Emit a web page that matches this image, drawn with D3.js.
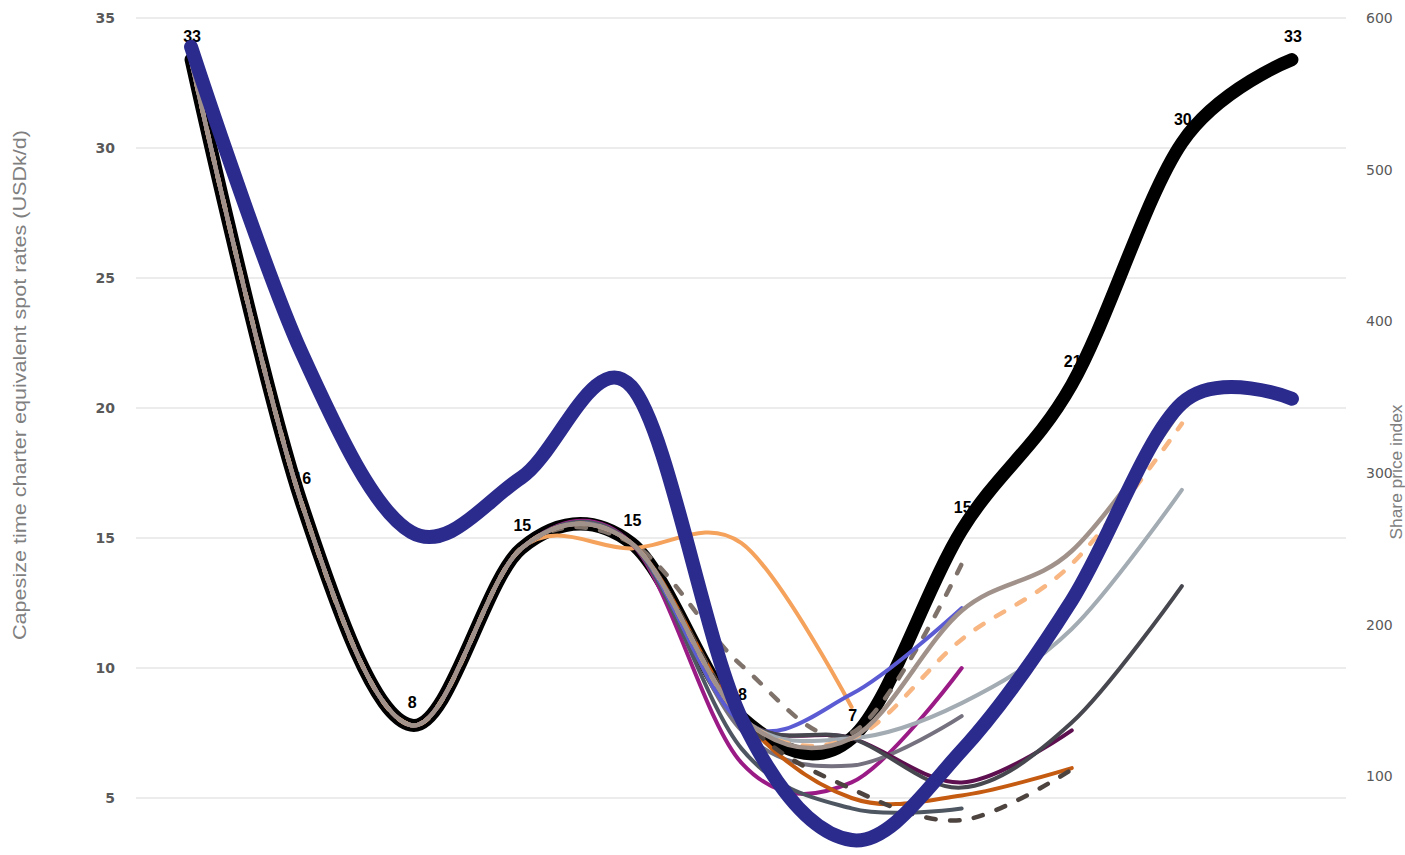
<!DOCTYPE html>
<html>
<head>
<meta charset="utf-8">
<script src="https://cdn.jsdelivr.net/npm/d3@7/dist/d3.min.js"></script>
<style>
  html, body { margin: 0; padding: 0; background: #ffffff; }
  svg { display: block; }
</style>
</head>
<body>
<svg id="chart" width="1405" height="855"></svg>
<script>
// ---------------- DATA ----------------
const categories = ["1", "2", "3", "4", "5", "6", "7", "8", "9", "10", "11"];
const leftTicks = [5, 10, 15, 20, 25, 30, 35];
const rightTicks = [100, 200, 300, 400, 500, 600];

// Capesize spot rate (USDk/d), left axis
const spotRate = [33.4, 16.4, 7.8, 14.6, 14.8, 8.1, 7.3, 15.3, 20.9, 30.2, 33.4];
// Share price index, right axis
const shareIndex = [581, 380, 261, 297, 357, 138, 58, 117, 216, 346, 349];

// Forecast paths (history shared with spot rate, then three forecast points)
const fcOrange      = [33.4, 16.4, 7.8, 14.6, 14.6, 14.8, 8.5, null, null, null, null];
const fcBrownDash   = [33.4, 16.4, 7.8, 14.6, 14.8, 10.1, 7.5, 14.0, null, null, null];
const fcMagenta     = [33.4, 16.4, 7.8, 14.6, 14.8, 6.35, 5.6, 10.0, null, null, null];
const fcSlate       = [33.4, 16.4, 7.8, 14.6, 14.8, 6.9, 4.6, 4.6, null, null, null];
const fcMidGrey     = [33.4, 16.4, 7.8, 14.6, 14.8, 7.6, 6.25, 8.15, null, null, null];
const fcPeriwinkle  = [33.4, 16.4, 7.8, 14.6, 14.8, 7.9, 9.0, 12.3, null, null, null];
const fcDarkPurple  = [33.4, 16.4, 7.8, 14.6, 14.8, 8.1, 7.3, 5.6, 7.6, null, null];
const fcDarkOrange  = [33.4, 16.4, 7.8, 14.6, 14.8, 8.1, 5.0, 5.1, 6.15, null, null];
const fcDarkDash    = [33.4, 16.4, 7.8, 14.6, 14.8, 8.1, 5.35, 4.15, 6.1, null, null];
const fcDarkGrey    = [33.4, 16.4, 7.8, 14.6, 14.8, 8.1, 7.3, 5.4, 7.9, 13.15, null];
const fcLightGrey   = [33.4, 16.4, 7.8, 14.6, 14.8, 8.1, 7.3, 8.65, 11.5, 16.85, null];
const fcLightOrDash = [33.4, 16.4, 7.8, 14.6, 14.8, 8.1, 7.3, 11.1, 14.0, 19.4, null];
const fcTan         = [33.4, 16.4, 7.8, 14.6, 14.8, 8.1, 7.3, 12.2, 14.5, 20.0, null];

const leftTitle = "Capesize time charter equivalent spot rates (USDk/d)";
const rightTitle = "Share price index";

// ---------------- CHART ----------------
const svg = d3.select("#chart");
const plotL = 136, plotR = 1347;

const x = d3.scalePoint().domain(categories).range([plotL, plotR]).padding(0.5);
const yL = d3.scaleLinear().domain([0, 35]).range([928, 18]);
const yR = d3.scaleLinear().domain([0, 600]).range([928, 18]);

// gridlines
svg.append("g").selectAll("line").data(leftTicks).join("line")
  .attr("x1", plotL).attr("x2", plotR - 1)
  .attr("y1", d => yL(d)).attr("y2", d => yL(d))
  .attr("stroke", "#d9d9d9").attr("stroke-width", 1);

// left axis
const axL = svg.append("g").attr("transform", `translate(${plotL},0)`)
  .call(d3.axisLeft(yL).tickValues(leftTicks).tickSize(0).tickPadding(21));
axL.select(".domain").remove();
axL.selectAll("text")
  .attr("font-family", "'DejaVu Sans', Verdana, sans-serif")
  .attr("font-size", 14).attr("font-weight", "bold").attr("fill", "#595959");

// right axis
const axR = svg.append("g").attr("transform", `translate(${plotR - 1},0)`)
  .call(d3.axisRight(yR).tickValues(rightTicks).tickSize(0).tickPadding(20));
axR.select(".domain").remove();
axR.selectAll("text")
  .attr("font-family", "'DejaVu Sans', Verdana, sans-serif")
  .attr("font-size", 14).attr("fill", "#595959");

// axis titles
svg.append("text")
  .attr("transform", "translate(19,385) rotate(-90)")
  .attr("text-anchor", "middle").attr("dominant-baseline", "central")
  .attr("font-family", "'Liberation Sans', Arial, sans-serif")
  .attr("font-size", 19).attr("fill", "#7f7f7f")
  .attr("textLength", 510).attr("lengthAdjust", "spacingAndGlyphs")
  .text(leftTitle);

svg.append("text")
  .attr("transform", "translate(1396,472) rotate(-90)")
  .attr("text-anchor", "middle").attr("dominant-baseline", "central")
  .attr("font-family", "'Liberation Sans', Arial, sans-serif")
  .attr("font-size", 16).attr("fill", "#7f7f7f")
  .attr("textLength", 135).attr("lengthAdjust", "spacingAndGlyphs")
  .text(rightTitle);

// data labels for spot rate (drawn under the lines)
svg.append("g").selectAll("text").data(spotRate).join("text")
  .attr("x", (d, i) => x(categories[i]) + 1)
  .attr("y", d => yL(d) - 23)
  .attr("text-anchor", "middle").attr("dominant-baseline", "central")
  .attr("font-family", "'Liberation Sans', Arial, sans-serif")
  .attr("font-size", 16).attr("font-weight", "bold").attr("fill", "#000")
  .text(d => d3.format(".0f")(d));

const curve = d3.curveCardinal.tension(0);
function lineFor(scale) {
  return d3.line()
    .defined(d => d != null)
    .x((d, i) => x(categories[i]))
    .y(d => scale(d))
    .curve(curve);
}
const lineL = lineFor(yL);
const lineR = lineFor(yR);

function draw(values, line, color, width, dash) {
  svg.append("path")
    .attr("d", line(values))
    .attr("fill", "none")
    .attr("stroke", color)
    .attr("stroke-width", width)
    .attr("stroke-linecap", "round")
    .attr("stroke-linejoin", "round")
    .attr("stroke-dasharray", dash || null);
}

// spot rate (thick black)
draw(spotRate, lineL, "#000000", 13);

// forecasts
draw(fcOrange, lineL, "#f5a25d", 4);
draw(fcBrownDash, lineL, "#7f726b", 4.5, "9.5,14.5");
draw(fcMagenta, lineL, "#9b1b86", 4);
draw(fcSlate, lineL, "#4e5761", 4);
draw(fcMidGrey, lineL, "#76717f", 4);
draw(fcPeriwinkle, lineL, "#5b5bd4", 4);
draw(fcDarkPurple, lineL, "#5e0f4f", 4);
draw(fcDarkOrange, lineL, "#c55a11", 4);
draw(fcDarkDash, lineL, "#4d4440", 4.5, "9.5,14.5");
draw(fcDarkGrey, lineL, "#47474f", 4);
draw(fcLightGrey, lineL, "#a3abb3", 4);
draw(fcLightOrDash, lineL, "#f8b683", 4.5, "9.5,14.5");
draw(fcTan, lineL, "#a0928a", 4.5);

// share price index (thick blue)
draw(shareIndex, lineR, "#2b2a8d", 14);
</script>
</body>
</html>
